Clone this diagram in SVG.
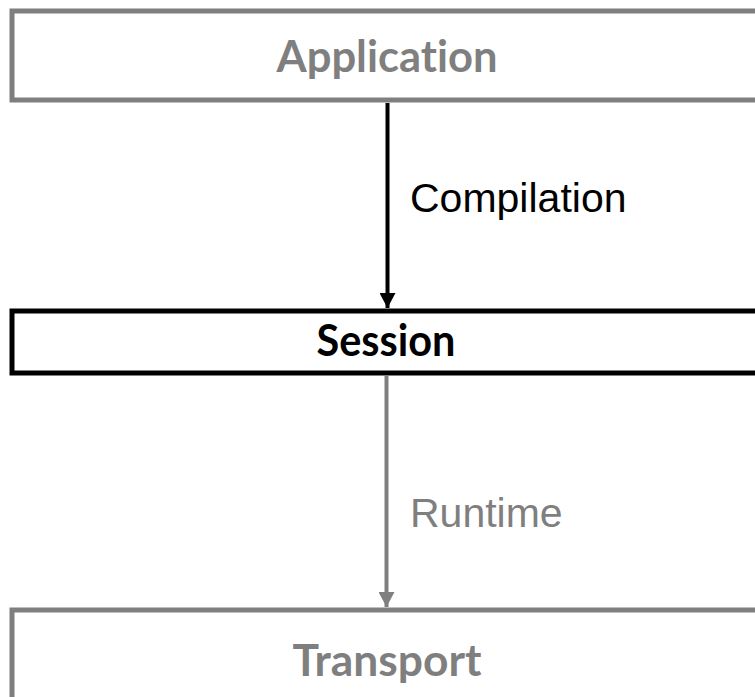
<svg xmlns="http://www.w3.org/2000/svg" width="755" height="697" viewBox="0 0 755 697">
  <style>
    .box { fill: #ffffff; stroke-width: 5; }
    .gray { stroke: #7f7f7f; }
    .black { stroke: #000000; }
    .title { font-family: Lato, "Open Sans", "Liberation Sans", sans-serif; font-weight: bold; font-size: 43px; text-anchor: middle; font-variant-ligatures: none; }
    .label { font-family: "Liberation Sans", Arial, sans-serif; font-size: 41px; }
  </style>
  <defs>
    <marker id="arrowBlack" markerUnits="userSpaceOnUse" markerWidth="16" markerHeight="16" refX="15" refY="8" orient="auto">
      <path d="M0,0 L15,8 L0,16 Z" fill="#000000"/>
    </marker>
    <marker id="arrowGray" markerUnits="userSpaceOnUse" markerWidth="16" markerHeight="16" refX="15" refY="8" orient="auto">
      <path d="M0,0 L15,8 L0,16 Z" fill="#7f7f7f"/>
    </marker>
  </defs>
  <rect width="755" height="697" fill="#ffffff"/>
  <g id="connectors">
    <line x1="387.5" y1="103" x2="387.5" y2="308" stroke="#000000" stroke-width="4" marker-end="url(#arrowBlack)"/>
    <text class="label" x="410" y="212" fill="#000000">Compilation</text>
    <line x1="386.5" y1="376" x2="386.5" y2="607" stroke="#7f7f7f" stroke-width="4" marker-end="url(#arrowGray)"/>
    <text class="label" x="410" y="527" fill="#7f7f7f">Runtime</text>
  </g>
  <g id="application">
    <rect class="box gray" x="12" y="11" width="760" height="89"/>
    <text class="title" x="387" y="72" fill="#7f7f7f" textLength="221" lengthAdjust="spacingAndGlyphs">Application</text>
  </g>
  <g id="session">
    <rect class="box black" x="12" y="311" width="760" height="62"/>
    <text class="title" x="386" y="356" fill="#000000" textLength="139" lengthAdjust="spacingAndGlyphs">Session</text>
  </g>
  <g id="transport">
    <rect class="box gray" x="12" y="610" width="760" height="110"/>
    <text class="title" x="387" y="676" fill="#7f7f7f" textLength="189" lengthAdjust="spacingAndGlyphs">Transport</text>
  </g>
</svg>
